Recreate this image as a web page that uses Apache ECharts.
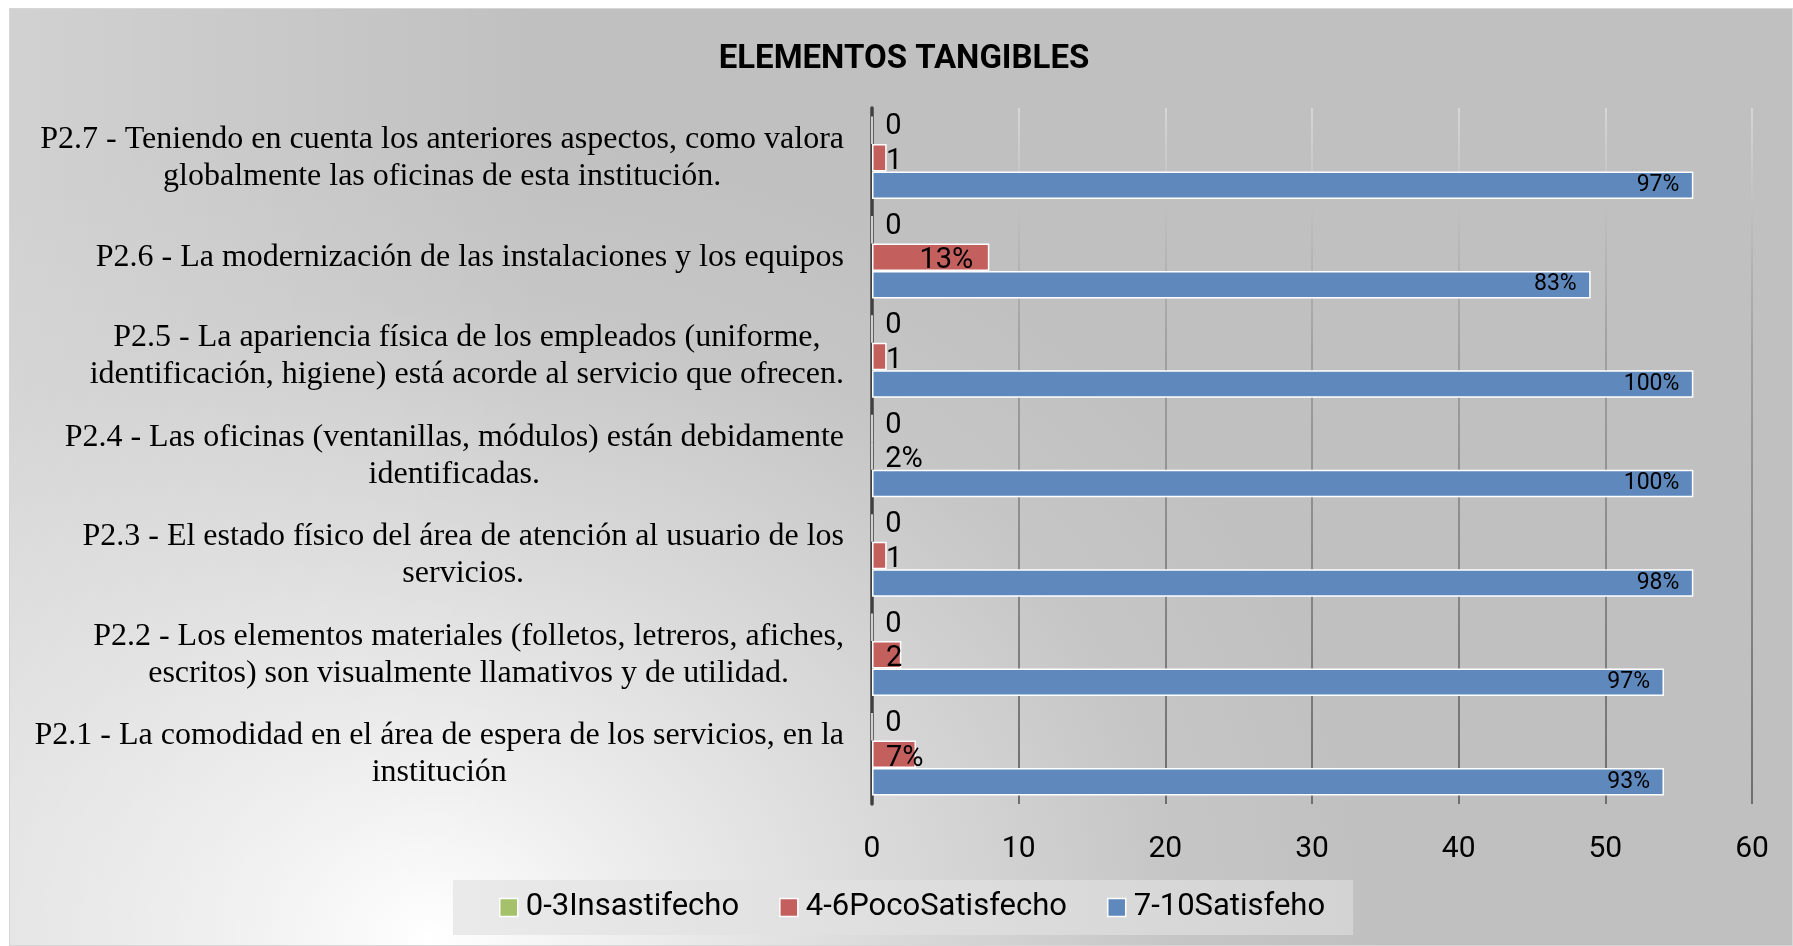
<!DOCTYPE html>
<html>
<head>
<meta charset="utf-8">
<script src="https://cdn.jsdelivr.net/npm/echarts@6/dist/echarts.min.js"></script>
<style>
  html, body { margin: 0; padding: 0; background: #ffffff; }
  #frame {
    position: absolute; left: 9px; top: 8px; width: 1782px; height: 936px;
    border: 1px solid #d6d6d6;
    background:
      linear-gradient(to right, rgba(255,255,255,0.28) 0%, rgba(255,255,255,0) 30%),
      radial-gradient(ellipse 950px 820px at 420px 930px, #ffffff 0%, #f0f0f0 18%, #dadada 48%, #c6c6c6 78%, #c0c0c0 100%);
  }
  #chart { position: absolute; left: 0; top: 0; width: 1793px; height: 946px; }
</style>
</head>
<body>
<div id="frame"></div>
<div id="chart"></div>
<script>
// ---- data ----
const categories = [
  'P2.1 - La comodidad en el área de espera de los servicios, en la\ninstitución',
  'P2.2 - Los elementos materiales (folletos, letreros, afiches,\nescritos) son visualmente llamativos y de utilidad.',
  'P2.3 - El estado físico del área de atención al usuario de los\nservicios.',
  'P2.4 - Las oficinas (ventanillas, módulos) están debidamente\nidentificadas.',
  'P2.5 - La apariencia física de los empleados (uniforme,\nidentificación, higiene) está acorde al servicio que ofrecen.',
  'P2.6 - La modernización de las instalaciones y los equipos',
  'P2.7 - Teniendo en cuenta los anteriores aspectos, como valora\nglobalmente las oficinas de esta institución.'
];
const seriesNames = ['0-3Insastifecho', '4-6PocoSatisfecho', '7-10Satisfeho'];
const insatisfecho = [0, 0, 0, 0, 0, 0, 0];
const pocoSatisfecho = [3, 2, 1, 0, 1, 8, 1];
const satisfecho = [54, 54, 56, 56, 56, 49, 56];
const insatisfechoLabels = ['0', '0', '0', '0', '0', '0', '0'];
const pocoLabels = ['7%', '2', '1', '2%', '1', '13%', '1'];
const satisfechoLabels = ['93%', '97%', '98%', '100%', '100%', '83%', '97%'];
const xTicks = { min: 0, max: 60, interval: 10 };

// ---- styles ----
const SANS = 'Roboto, "Open Sans", sans-serif';
const SERIF = '"Liberation Serif", "DejaVu Serif", serif';
const colors = ['#a5c26a', '#c3605e', '#5f89bc'];

function items(values, labels, smallRule) {
  return values.map(function (v, i) {
    const big = smallRule && v >= 5;
    return {
      value: v,
      label: {
        formatter: labels[i],
        position: big ? 'insideRight' : 'insideLeft',
        distance: big ? 16 : 14
      }
    };
  });
}

const chart = echarts.init(document.getElementById('chart'), null, { renderer: 'canvas' });
const option = {
  backgroundColor: 'transparent',
  animation: false,
  title: {
    text: 'ELEMENTOS TANGIBLES',
    left: 899, top: 38, textAlign: 'center',
    textStyle: { fontFamily: SANS, fontWeight: 'bold', fontSize: 33, color: '#000' }
  },
  legend: {
    data: seriesNames,
    left: 453, top: 880,
    padding: [11, 28, 11, 46],
    itemGap: 40,
    itemWidth: 18, itemHeight: 18,
    icon: 'rect',
    itemStyle: { borderColor: '#ffffff', borderWidth: 1.5 },
    textStyle: { fontFamily: SANS, fontSize: 31, color: '#000', lineHeight: 33, padding: [0, 0, 0, 3] },
    backgroundColor: {
      type: 'linear', x: 0, y: 0, x2: 1, y2: 0,
      colorStops: [{ offset: 0, color: '#eaeaea' }, { offset: 1, color: '#d3d3d3' }]
    }
  },
  grid: { left: 872, right: 41, top: 108, bottom: 142, containLabel: false },
  xAxis: {
    type: 'value',
    min: xTicks.min, max: xTicks.max, interval: xTicks.interval,
    axisLine: { show: false },
    axisTick: { show: false },
    axisLabel: { margin: 30, fontFamily: SANS, fontSize: 30, color: '#000' },
    splitLine: {
      show: true,
      lineStyle: {
        width: 2,
        color: {
          type: 'linear', x: 0, y: 0, x2: 0, y2: 1,
          colorStops: [
            { offset: 0, color: '#d6d6d6' },
            { offset: 0.35, color: '#a0a0a0' },
            { offset: 1, color: '#6e6e6e' }
          ]
        }
      }
    }
  },
  yAxis: {
    type: 'category',
    data: categories,
    axisLine: { show: true, lineStyle: { color: '#404040', width: 3.5 } },
    axisTick: { show: false },
    axisLabel: {
      align: 'right',
      margin: 28,
      formatter: function (v) {
        return v.split('\n').map(function (l) { return '{c|' + l + '}'; }).join('\n');
      },
      rich: {
        c: { fontFamily: SERIF, fontSize: 32, lineHeight: 37, align: 'center', color: '#000' }
      }
    }
  },
  series: [
    {
      name: seriesNames[0], type: 'bar',
      data: items(insatisfecho, insatisfechoLabels, false),
      barWidth: 27.5, barGap: '0%',
      itemStyle: { color: colors[0], borderColor: '#ffffff', borderWidth: 1.5 },
      label: { show: true, fontFamily: SANS, fontSize: 29, color: '#000', offset: [0, -3] }
    },
    {
      name: seriesNames[1], type: 'bar',
      data: items(pocoSatisfecho, pocoLabels, true),
      barWidth: 27.5, barGap: '0%',
      itemStyle: { color: colors[1], borderColor: '#ffffff', borderWidth: 1.5 },
      label: { show: true, fontFamily: SANS, fontSize: 29, color: '#000', offset: [0, 4] }
    },
    {
      name: seriesNames[2], type: 'bar',
      data: satisfecho.map(function (v, i) {
        return { value: v, label: { formatter: satisfechoLabels[i] } };
      }),
      barWidth: 27.5, barGap: '0%',
      itemStyle: { color: colors[2], borderColor: '#ffffff', borderWidth: 1.5 },
      label: { show: true, position: 'insideRight', distance: 14, fontFamily: SANS, fontSize: 23, color: '#000' }
    }
  ]
};
chart.setOption(option);
</script>
</body>
</html>
